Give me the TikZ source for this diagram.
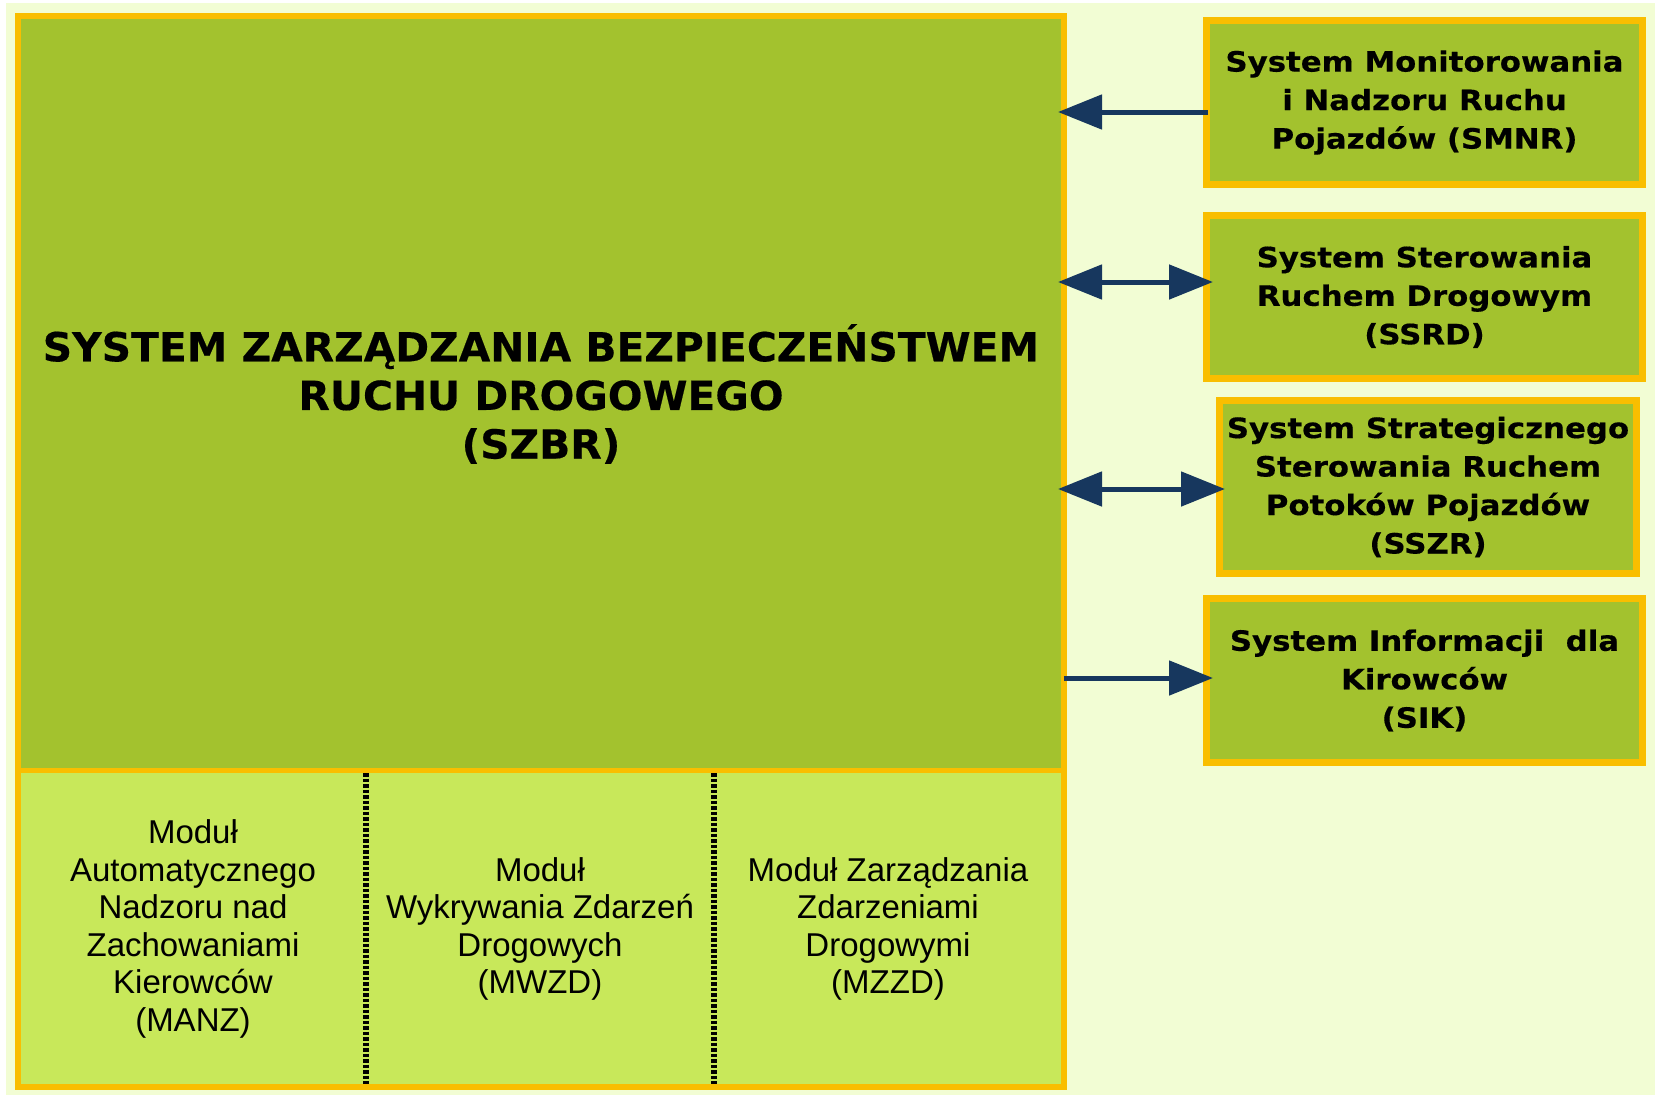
\documentclass[tikz,border=0pt]{standalone}
\usepackage{fontspec}
\setmainfont{Liberation Sans}
\newfontfamily\headfont{DejaVu Sans}[BoldFeatures={FakeStretch=1.02,FakeBold=0.4}]
\newfontfamily\boxfont{DejaVu Sans}[BoldFeatures={FakeStretch=1.1,FakeBold=0.4}]
\usetikzlibrary{arrows.meta}

\definecolor{cream}{RGB}{242,253,212}
\definecolor{leaf}{RGB}{163,194,46}
\definecolor{lime}{RGB}{200,232,90}
\definecolor{amber}{RGB}{249,190,0}
\definecolor{navy}{RGB}{23,55,94}

\begin{document}
\begin{tikzpicture}[x=1pt,y=1pt,
  sysbox/.style={draw=amber, line width=7pt, fill=leaf, align=center,
    font=\boxfont\bfseries\fontsize{28}{38.5}\selectfont, inner sep=0pt},
  headline/.style={align=center, inner sep=0pt,
    font=\headfont\bfseries\fontsize{40}{48.6}\selectfont},
  modtext/.style={align=center, inner sep=0pt,
    font=\fontsize{33}{37.5}\selectfont},
  divider/.style={line width=5.5pt, dash pattern=on 3.6pt off 1.9pt},
  navytip/.tip={Triangle[length=44pt,width=34pt]},
  link/.style={navy, line width=5pt, -navytip},
  twoway/.style={navy, line width=5pt, navytip-navytip}
]
\useasboundingbox (0,0) rectangle (1655,-1095);
\fill[white] (0,0) rectangle (1655,-1095);
\fill[cream] (6,-3) rectangle (1655,-1095);

% main system block: upper part and module strip
\fill[leaf] (18,-16) rectangle (1064,-770.5);
\fill[lime] (18,-770.5) rectangle (1064,-1087);
\draw[divider] (366,-773) -- (366,-1084);
\draw[divider] (714,-773) -- (714,-1084);
\draw[amber, line width=5pt] (18,-770.5) -- (1064,-770.5);
\node[draw=amber, line width=6pt, minimum width=1046pt, minimum height=1071pt,
      inner sep=0pt] (szbr) at (541,-551.5) {};

\node[headline] (szbrtitle) at (541,-394)
  {SYSTEM ZARZĄDZANIA BEZPIECZEŃSTWEM\\RUCHU DROGOWEGO\\(SZBR)};

\node[modtext] (manz) at (193,-929)
  {Moduł\\Automatycznego\\Nadzoru nad\\Zachowaniami\\Kierowców\\(MANZ)};
\node[modtext] (mwzd) at (540,-929)
  {Moduł\\Wykrywania Zdarzeń\\Drogowych\\(MWZD)};
\node[modtext] (mzzd) at (888,-929)
  {Moduł Zarządzania\\Zdarzeniami\\Drogowymi\\(MZZD)};

% cooperating systems
\node[sysbox, minimum width=436pt, minimum height=164pt] (smnr) at (1424.5,-102.5)
  {System Monitorowania\\i Nadzoru Ruchu\\Pojazdów (SMNR)};
\node[sysbox, minimum width=436pt, minimum height=163pt] (ssrd) at (1424.5,-297)
  {System Sterowania\\Ruchem Drogowym\\(SSRD)};
\node[sysbox, minimum width=417pt, minimum height=173pt] (sszr) at (1428,-487)
  {System Strategicznego\\Sterowania Ruchem\\Potoków Pojazdów\\(SSZR)};
\node[sysbox, minimum width=436pt, minimum height=164pt] (sik) at (1424.5,-680.5)
  {System Informacji\ \ dla\\Kirowców\\(SIK)};

% connector ends on the main block
\coordinate (in1) at (1058,-112);
\coordinate (in2) at (1058,-282);
\coordinate (in3) at (1058,-489);
\coordinate (out4) at (1064,-678);

\draw[link] ([xshift=5pt,yshift=-9.5pt]smnr.west) -- (in1);
\draw[twoway] (in2) -- ([xshift=10pt,yshift=15pt]ssrd.west);
\draw[twoway] (in3) -- ([xshift=9pt,yshift=-2pt]sszr.west);
\draw[link] (out4) -- ([xshift=10pt,yshift=2.5pt]sik.west);
\end{tikzpicture}
\end{document}
